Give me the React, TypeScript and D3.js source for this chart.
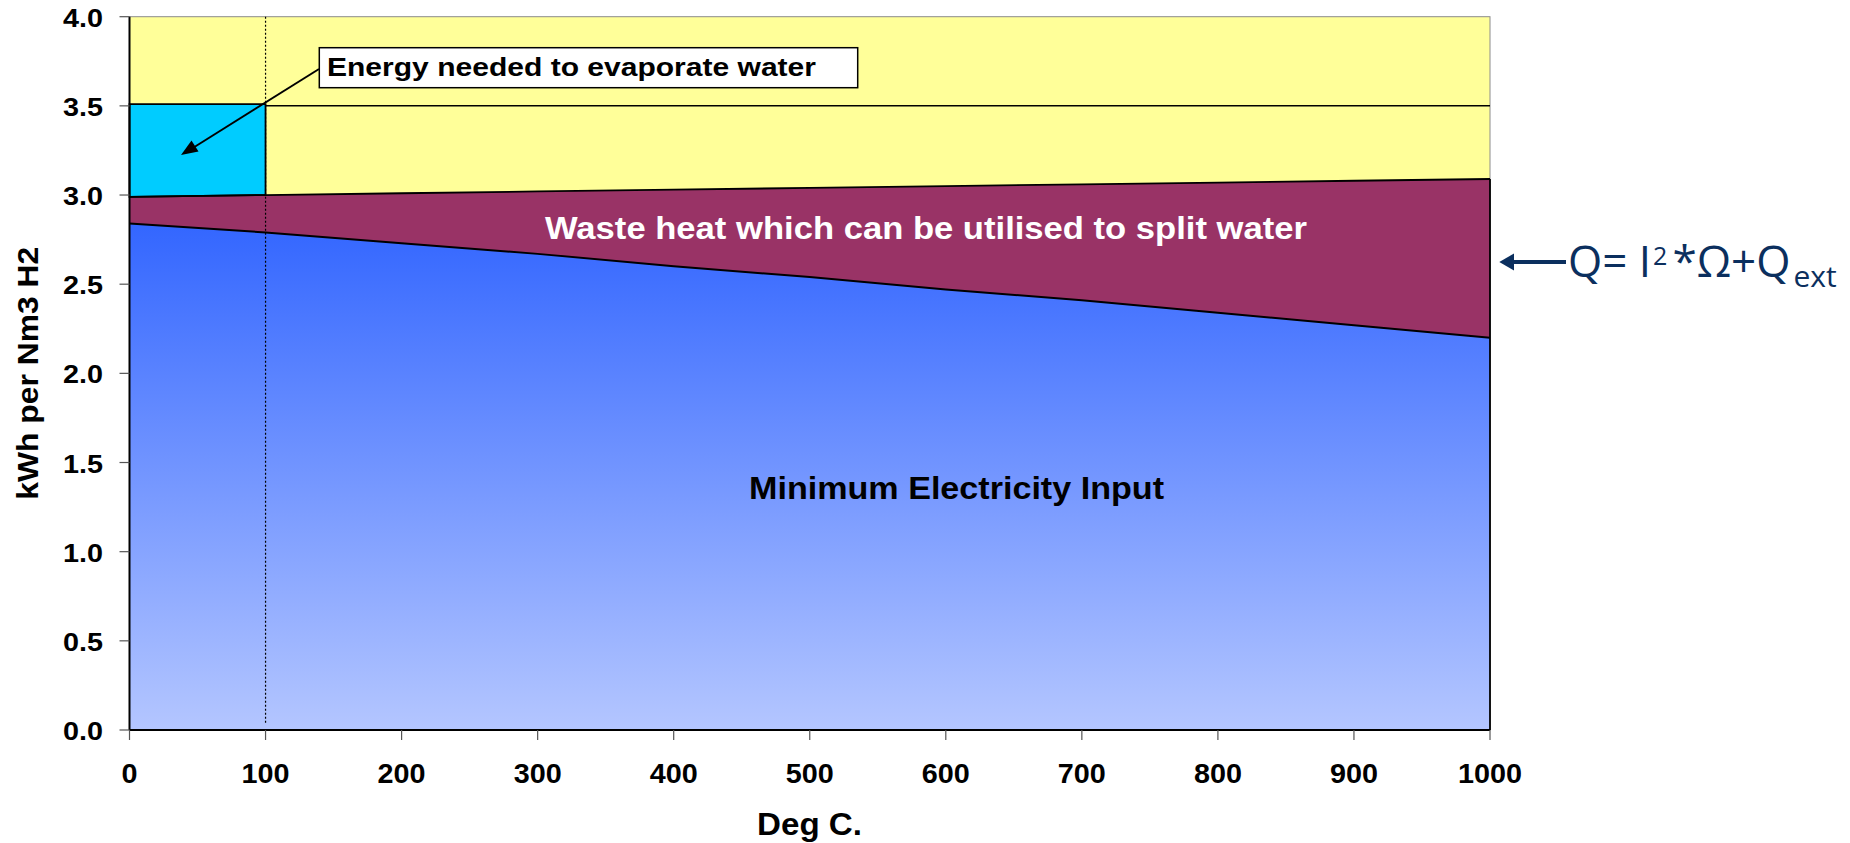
import React from "react";
import * as d3 from "d3";

const temps = [0, 100, 200, 300, 400, 500, 600, 700, 800, 900, 1000];
const minElectricity = [2.84, 2.79, 2.73, 2.67, 2.6, 2.54, 2.47, 2.41, 2.34, 2.27, 2.2];
const totalEnergy = [2.99, 3.0, 3.01, 3.02, 3.03, 3.04, 3.05, 3.06, 3.07, 3.08, 3.09];
const evapTemps = [0, 100];
const evapTop = [3.51, 3.51];
const upperTemps = [100, 1000];
const upperValues = [3.5, 3.5];
const xTicks = [0, 100, 200, 300, 400, 500, 600, 700, 800, 900, 1000];
const yTicks = [0, 0.5, 1, 1.5, 2, 2.5, 3, 3.5, 4];

const FONT = "'Liberation Sans', Arial, Helvetica, sans-serif";
const NAVY = "#0b2f5e";

export default function App() {
  const x = d3.scaleLinear().domain([0, 1000]).range([129.5, 1490]);
  const y = d3.scaleLinear().domain([0, 4]).range([730, 16.7]);

  const elecPts = temps.map((t, i) => ({ t, lo: 0, hi: minElectricity[i] }));
  const wastePts = temps.map((t, i) => ({ t, lo: minElectricity[i], hi: totalEnergy[i] }));
  const evapPts = evapTemps.map((t, i) => ({ t, lo: totalEnergy[temps.indexOf(t)], hi: evapTop[i] }));

  const area = d3
    .area<{ t: number; lo: number; hi: number }>()
    .x((d) => x(d.t))
    .y0((d) => y(d.lo))
    .y1((d) => y(d.hi));
  const topLine = d3
    .line<{ t: number; lo: number; hi: number }>()
    .x((d) => x(d.t))
    .y((d) => y(d.hi));
  const upperLine = d3
    .line<number>()
    .x((_, i) => x(upperTemps[i]))
    .y((v) => y(v));

  const x0 = x(0), x1 = x(1000), yTop = y(4), yBot = y(0);
  const elecTopY = y(d3.max(minElectricity) as number);

  return (
    <svg width={1850} height={843} style={{ display: "block", position: "absolute", left: 0, top: 0 }}>
      <style>{`body{margin:0}`}</style>
      <defs>
        <linearGradient id="blueGrad" gradientUnits="userSpaceOnUse" x1={0} y1={elecTopY} x2={0} y2={yBot}>
          <stop offset="0" stopColor="#3366ff" />
          <stop offset="1" stopColor="#b4c6ff" />
        </linearGradient>
      </defs>
      {/* plot background */}
      <rect x={x0} y={yTop} width={x1 - x0} height={yBot - yTop} fill="#ffff99" stroke="#8c8c8c" strokeWidth={1} />
      {/* areas */}
      <path d={area(elecPts) as string} fill="url(#blueGrad)" />
      <path d={area(wastePts) as string} fill="#993366" />
      <path d={area(evapPts) as string} fill="#00ccff" stroke="#000" strokeWidth={1.8} />
      <path d={upperLine(upperValues) as string} fill="none" stroke="#000" strokeWidth={1.5} />
      <path d={topLine(wastePts) as string} fill="none" stroke="#000" strokeWidth={1.8} />
      <path d={topLine(elecPts) as string} fill="none" stroke="#000" strokeWidth={2} />
      {/* right edge outline of areas */}
      <line x1={x1} x2={x1} y1={y(totalEnergy[totalEnergy.length - 1])} y2={yBot} stroke="#000" strokeWidth={1.8} />
      {/* dotted line at 100 */}
      <line x1={x(100)} x2={x(100)} y1={yTop} y2={yBot - 7} stroke="#000" strokeWidth={1.2} strokeDasharray="2,2" />
      {/* axes */}
      <line x1={x0} x2={x0} y1={yTop} y2={yBot} stroke="#000" strokeWidth={2} />
      <line x1={x0} x2={x1} y1={yBot} y2={yBot} stroke="#000" strokeWidth={2} />
      {yTicks.map((v) => (
        <g key={"y" + v}>
          <line x1={x0 - 10} x2={x0} y1={y(v)} y2={y(v)} stroke="#555" strokeWidth={1.2} />
          <text x={103} y={y(v) + 10} textAnchor="end" fontFamily={FONT} fontWeight="bold" fontSize={25}
            textLength={40} lengthAdjust="spacingAndGlyphs">
            {d3.format(".1f")(v)}
          </text>
        </g>
      ))}
      {xTicks.map((v) => {
        const s = String(v);
        return (
          <g key={"x" + v}>
            <line x1={x(v)} x2={x(v)} y1={yBot} y2={yBot + 10} stroke="#555" strokeWidth={1.2} />
            <text x={x(v)} y={782.5} textAnchor="middle" fontFamily={FONT} fontWeight="bold" fontSize={27.5}
              textLength={16 * s.length} lengthAdjust="spacingAndGlyphs">
              {s}
            </text>
          </g>
        );
      })}
      {/* axis titles */}
      <text x={809.5} y={835} textAnchor="middle" fontFamily={FONT} fontWeight="bold" fontSize={31}
        textLength={105} lengthAdjust="spacingAndGlyphs">Deg C.</text>
      <text transform="translate(37.7,373.3) rotate(-90)" textAnchor="middle" fontFamily={FONT} fontWeight="bold"
        fontSize={29.5} textLength={253} lengthAdjust="spacingAndGlyphs">kWh per Nm3 H2</text>
      {/* area labels */}
      <text x={545} y={238.5} fontFamily={FONT} fontWeight="bold" fontSize={30.5} fill="#fff"
        textLength={762} lengthAdjust="spacingAndGlyphs">Waste heat which can be utilised to split water</text>
      <text x={749} y={499} fontFamily={FONT} fontWeight="bold" fontSize={31} fill="#000"
        textLength={415} lengthAdjust="spacingAndGlyphs">Minimum Electricity Input</text>
      {/* annotation */}
      <line x1={319} y1={69} x2={192} y2={148.5} stroke="#000" strokeWidth={2} />
      <polygon points="181,155 191.5,140.5 198.5,151.5" fill="#000" />
      <rect x={319.3} y={47.7} width={538.4} height={40} fill="#fff" stroke="#000" strokeWidth={1.5} />
      <text x={327} y={75.5} fontFamily={FONT} fontWeight="bold" fontSize={26.5}
        textLength={489} lengthAdjust="spacingAndGlyphs">Energy needed to evaporate water</text>
      {/* Q formula */}
      <line x1={1511} x2={1566} y1={262} y2={262} stroke={NAVY} strokeWidth={4} />
      <polygon points="1499.3,262 1514,253.5 1514,270.5" fill={NAVY} />
      <text x={1568} y={276.7} fontFamily="'Open Sans', 'Noto Sans', sans-serif" fill={NAVY} fontSize={44}>
        Q= I
        <tspan dx={2} dy={-11.7} fontSize={25}>2</tspan>
        <tspan dx={5} dy={11.7}>*Ω+Q</tspan>
        <tspan dx={3} dy={10} fontSize={30}>ext</tspan>
      </text>
    </svg>
  );
}
